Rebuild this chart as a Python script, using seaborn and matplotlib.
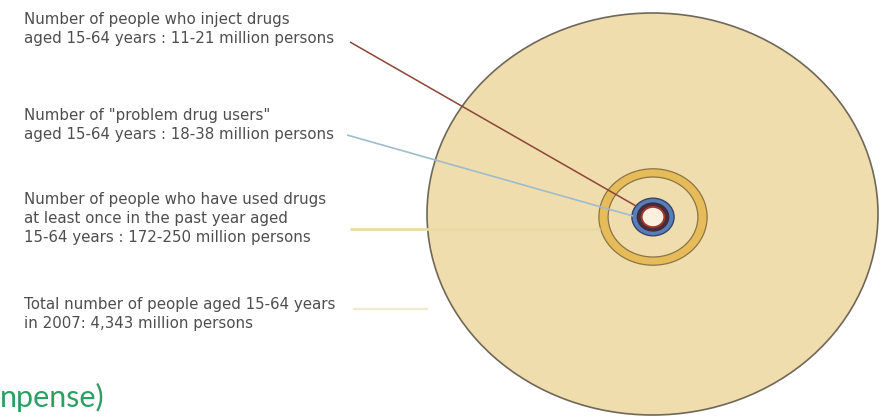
import numpy as np
import matplotlib
matplotlib.use("Agg")
import matplotlib.pyplot as plt
from matplotlib.patches import Ellipse
import seaborn as sns

# Population groups aged 15-64 (millions of persons): low / high estimates
groups = ["inject", "problem", "used", "total"]
low_est = [11, 18, 172, 4343]
high_est = [21, 38, 250, 4343]
total_pop = 4343

label_lines = [
    ["Number of people who inject drugs",
     "aged 15-64 years : 11-21 million persons"],
    ["Number of \"problem drug users\"",
     "aged 15-64 years : 18-38 million persons"],
    ["Number of people who have used drugs",
     "at least once in the past year aged",
     "15-64 years : 172-250 million persons"],
    ["Total number of people aged 15-64 years",
     "in 2007: 4,343 million persons"],
]
footer_text = "npense)"

sns.set_theme(style="white")
plt.rcParams["font.family"] = ["DejaVu Sans"]

W, H = 886, 420
fig = plt.figure(figsize=(W / 100, H / 100), dpi=100)
ax = fig.add_axes([0, 0, 1, 1])
ax.set_xlim(0, W)
ax.set_ylim(H, 0)
ax.axis("off")

# Circle areas proportional to population; the figure is stretched horizontally
RX, RY = 225.5, 201.0
big_c = (652.5, 214.0)
core_c = (653.0, 217.0)


def radii(v):
    f = np.sqrt(v / total_pop)
    return 2 * RX * f, 2 * RY * f


def ell(center, v, fc, ec, lw, z):
    w, h = radii(v)
    ax.add_patch(Ellipse(center, w, h, facecolor=fc, edgecolor=ec, lw=lw, zorder=z))


tan = "#f0ddad"
# Total population
ell(big_c, high_est[3], tan, "#6f6858", 1.2, 1)
# Past-year users ring (172-250)
ell(core_c, high_est[2], "#e6bb5a", "#8c7444", 0.9, 2)
ell(core_c, low_est[2], tan, "#8c7444", 0.9, 3)
# Problem drug users ring (18-38)
ell(core_c, high_est[1], "#587db9", "#34466a", 1.0, 4)
# Injecting users ring (11-21)
ell(core_c, high_est[0], "#4b2c38", "#3a2a3a", 0.9, 5)
ell(core_c, low_est[0], "#fbf0de", "#a03a30", 1.4, 6)

# Leader lines from each label to its ring
leaders = [
    ((350, 42), (636, 206), "#8a4636", 1.1),
    ((347, 135), (633, 216), "#9fbccb", 1.2),
    ((350, 229), (600, 229), "#e8dca4", 2.0),
    ((353, 309), (428, 309), "#f0e8cc", 1.6),
]
for (x0, y0), (x1, y1), col, lw in leaders:
    ax.plot([x0, x1], [y0, y1], color=col, lw=lw, zorder=7, solid_capstyle="butt")

# Labels
block_baselines = [24, 120, 204, 309]
line_step = 19.2
for lines, b in zip(label_lines, block_baselines):
    for i, ln in enumerate(lines):
        ax.text(24, b + i * line_step, ln, fontsize=10.8, color="#4e4e4e",
                va="baseline", ha="left", zorder=8)

ax.text(0, 407, footer_text, fontsize=22, color="#2e9e64",
        family=["Lato", "DejaVu Sans"], va="baseline", ha="left", zorder=8)

fig.savefig("out.png", dpi=100, facecolor="white")
